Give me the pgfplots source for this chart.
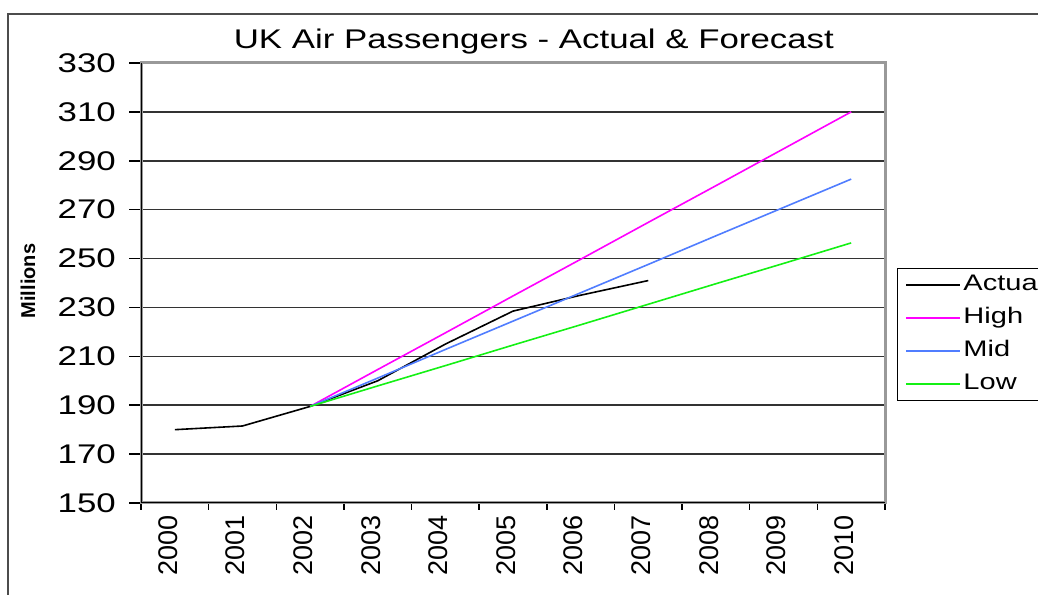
\documentclass[border=0pt]{standalone}
\usepackage{fontspec}
\usepackage{pgfplots}
\pgfplotsset{compat=1.18}
\setmainfont{Liberation Sans}
\newfontfamily\wide[FakeStretch=1.29]{Liberation Sans}

\definecolor{highc}{RGB}{255,0,255}
\definecolor{midc}{RGB}{80,125,255}
\definecolor{lowc}{RGB}{20,240,20}

\begin{document}
\begin{tikzpicture}[x=1pt,y=1pt]
  \path[use as bounding box] (0,0) rectangle (1038,594);
  \clip (0,0) rectangle (1038,594);
  % chart frame
  \draw[line width=2pt, black!70] (8,-20) rectangle (1080,580);
  \begin{axis}[
    at={(141pt,91pt)}, anchor=south west,
    scale only axis, width=744pt, height=440pt,
    xmin=-0.5, xmax=10.5, ymin=150, ymax=330,
    xtick={0,...,10},
    xticklabels={2000,2001,2002,2003,2004,2005,2006,2007,2008,2009,2010},
    minor xtick={-0.5,0.5,...,10.5},
    ytick={150,170,...,330},
    xtick pos=bottom, ytick pos=left,
    /pgf/number format/assume math mode=true,
    tick align=outside,
    major tick length=12pt, minor tick length=7pt,
    tick style={black, line width=1.5pt},
    major x tick style={draw=none},
    ymajorgrids,
    grid style={black!80, line width=1.5pt},
    axis line style={black!40, line width=3pt},
    xticklabel style={font=\fontsize{27}{27}\selectfont, rotate=90, anchor=east, inner sep=0pt, yshift=7pt},
    yticklabel style={font=\wide\fontsize{27}{27}\selectfont, anchor=east, inner sep=0pt, xshift=-13pt},
    title={UK Air Passengers - Actual \& Forecast},
    every axis title/.style={at={(axis description cs:0.528,1.034)}, anchor=base, font=\wide\fontsize{27}{27}\selectfont},
    ylabel={Millions},
    every axis y label/.style={at={(axis description cs:-0.1519,0.5045)}, anchor=center, rotate=90, font=\bfseries\fontsize{20}{20}\selectfont},
    legend style={at={(axis description cs:1.0161,0.534)}, anchor=north west,
      draw=black, line width=1pt, inner xsep=8pt, inner ysep=0pt,
      font=\wide\fontsize{22.5}{22.5}\selectfont,
      nodes={text height=17pt, text depth=6pt, inner ysep=5pt}},
    legend cell align=left,
    legend image code/.code={\draw[#1, line width=2pt] (0pt,0pt) -- (54pt,0pt);},
  ]
    \addplot[black, line width=1.6pt] coordinates {
      (0,180) (1,181.5) (2,189.5) (3,200) (4,215) (5,228.5) (6,235) (7,241)};
    \addlegendentry{Actual}
    \addplot[highc, line width=1.6pt] coordinates {
      (2,189.5) (3,204.6) (4,219.6) (5,234.7) (6,249.7) (7,264.8) (8,279.8) (9,294.9) (10,310)};
    \addlegendentry{High}
    \addplot[midc, line width=1.6pt] coordinates {
      (2,189.5) (3,201.1) (4,212.8) (5,224.4) (6,236.0) (7,247.6) (8,259.3) (9,270.9) (10,282.5)};
    \addlegendentry{Mid}
    \addplot[lowc, line width=1.6pt] coordinates {
      (2,189.5) (3,197.9) (4,206.2) (5,214.6) (6,222.9) (7,231.3) (8,239.7) (9,248.0) (10,256.4)};
    \addlegendentry{Low}
    % black value and category axes over the grey plot-area frame
    \draw[black, line width=2pt] (rel axis cs:0,1) -- (rel axis cs:0,0) -- (rel axis cs:1,0);
  \end{axis}
\end{tikzpicture}
\end{document}
